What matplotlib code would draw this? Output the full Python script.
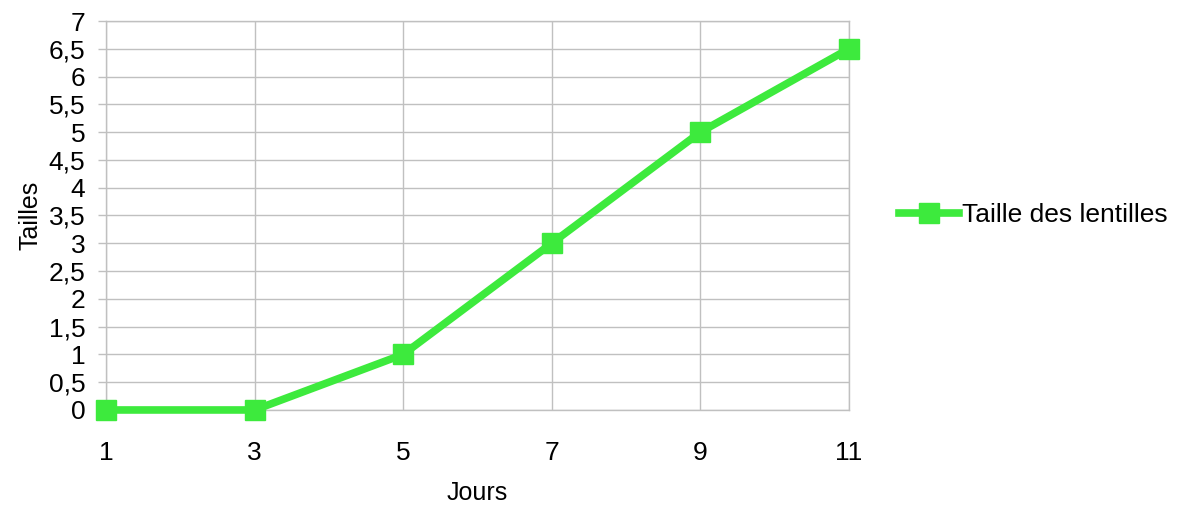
import matplotlib.pyplot as plt
from matplotlib.ticker import FuncFormatter, MultipleLocator

jours = [1, 3, 5, 7, 9, 11]
tailles = [0, 0, 1, 3, 5, 6.5]
serie = "Taille des lentilles"

plt.rcParams['font.family'] = ['Liberation Sans', 'DejaVu Sans']

vert = "#3dea3d"
gris = "#c0c0c0"

fig = plt.figure(figsize=(11.83, 5.11), dpi=100)
ax = fig.add_axes([0.0896, 0.1977, 0.628, 0.7612])

ax.plot(jours, tailles, color=vert, linewidth=5.5, marker="s", markersize=14,
        label=serie, solid_joinstyle="miter", clip_on=False, zorder=3)

ax.set_xlim(1, 11)
ax.set_ylim(0, 7)
ax.set_xticks(jours)
ax.yaxis.set_major_locator(MultipleLocator(0.5))
ax.yaxis.set_major_formatter(FuncFormatter(lambda v, p: f"{v:g}".replace(".", ",")))

ax.grid(True, color=gris, linewidth=1)
ax.set_axisbelow(True)
for s in ax.spines.values():
    s.set_color(gris)
    s.set_linewidth(1)

# axe y : petits traits a gauche, axe x : pas de traits
ax.tick_params(axis="y", length=6, color=gris, width=1, pad=9, labelsize=19)
ax.tick_params(axis="x", length=0, pad=22, labelsize=19)

ax.set_xlabel("Jours", fontsize=18, labelpad=12)
ax.set_ylabel("Tailles", fontsize=18, labelpad=4)

leg = ax.legend(loc="center left", bbox_to_anchor=(1.035, 0.5), frameon=False,
                fontsize=19, handlelength=2.3, handletextpad=0.1)

plt.savefig("out.png", dpi=100)
